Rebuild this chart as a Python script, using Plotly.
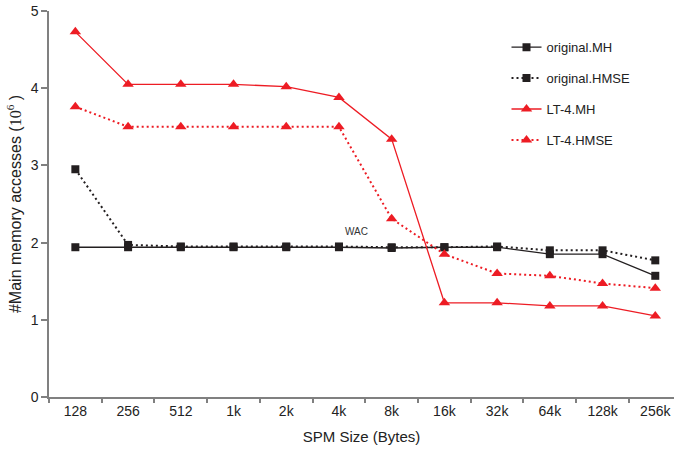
import plotly.graph_objects as go

categories = ["128", "256", "512", "1k", "2k", "4k", "8k", "16k", "32k", "64k", "128k", "256k"]
original_mh = [1.94, 1.94, 1.94, 1.94, 1.94, 1.94, 1.93, 1.94, 1.94, 1.85, 1.85, 1.57]
original_hmse = [2.95, 1.97, 1.95, 1.95, 1.95, 1.95, 1.94, 1.94, 1.95, 1.90, 1.90, 1.77]
lt4_mh = [4.73, 4.05, 4.05, 4.05, 4.02, 3.88, 3.34, 1.22, 1.22, 1.18, 1.18, 1.05]
lt4_hmse = [3.76, 3.50, 3.50, 3.50, 3.50, 3.50, 2.31, 1.85, 1.60, 1.57, 1.47, 1.41]

BLACK = "#231f20"
RED = "#ed1c24"
AXIS = "#808080"
FONT = "Liberation Sans, Arial, sans-serif"

fig = go.Figure()
series = [
    ("original.MH", original_mh, BLACK, "solid", "square", 8, 1.3),
    ("original.HMSE", original_hmse, BLACK, "2px,3px", "square", 8, 2.0),
    ("LT-4.MH", lt4_mh, RED, "solid", "triangle-up", 10, 1.3),
    ("LT-4.HMSE", lt4_hmse, RED, "2px,3px", "triangle-up", 10, 2.0),
]
for i, (name, vals, col, dash, sym, ms, lw) in enumerate(series):
    fig.add_trace(go.Scatter(
        x=categories, y=vals, name=name, mode="lines+markers",
        line=dict(color=col, width=lw, dash=dash),
        marker=dict(symbol=sym, size=ms, color=col),
        legendgroup=f"g{i}",
    ))

fig.add_annotation(x=5.34, y=2.14, xref="x", yref="y", text="WAC", showarrow=False,
                   font=dict(family=FONT, size=10, color="#333333"))

fig.update_layout(
    width=674, height=457,
    margin=dict(l=49, r=0, t=11, b=60),
    paper_bgcolor="white", plot_bgcolor="white",
    font=dict(family=FONT, size=14, color="#222222"),
    showlegend=True,
    legend=dict(x=0.732, y=0.945, xanchor="left", yanchor="top",
                font=dict(family=FONT, size=13, color="#222222"),
                tracegroupgap=11, bgcolor="rgba(0,0,0,0)"),
    xaxis=dict(
        type="category", range=[-0.5, 11.355],
        showline=True, linecolor=AXIS, linewidth=1.5,
        ticks="outside", tickson="boundaries", ticklen=4, tickcolor=AXIS, tickwidth=1.5,
        showgrid=False, zeroline=False,
        tickfont=dict(size=14),
        title=dict(text="SPM Size (Bytes)", font=dict(size=15), standoff=14),
    ),
    yaxis=dict(
        range=[0, 5], dtick=1,
        showline=True, linecolor=AXIS, linewidth=1.5,
        ticks="outside", ticklen=6, tickcolor=AXIS, tickwidth=1.5,
        showgrid=False, zeroline=False,
        tickfont=dict(size=14),
        title=dict(text="#Main memory accesses (<span style=\"font-family:'Liberation Serif', serif\">10<sup>6</sup></span> )",
                   font=dict(size=16), standoff=5),
    ),
)

fig.write_html("out.html")
